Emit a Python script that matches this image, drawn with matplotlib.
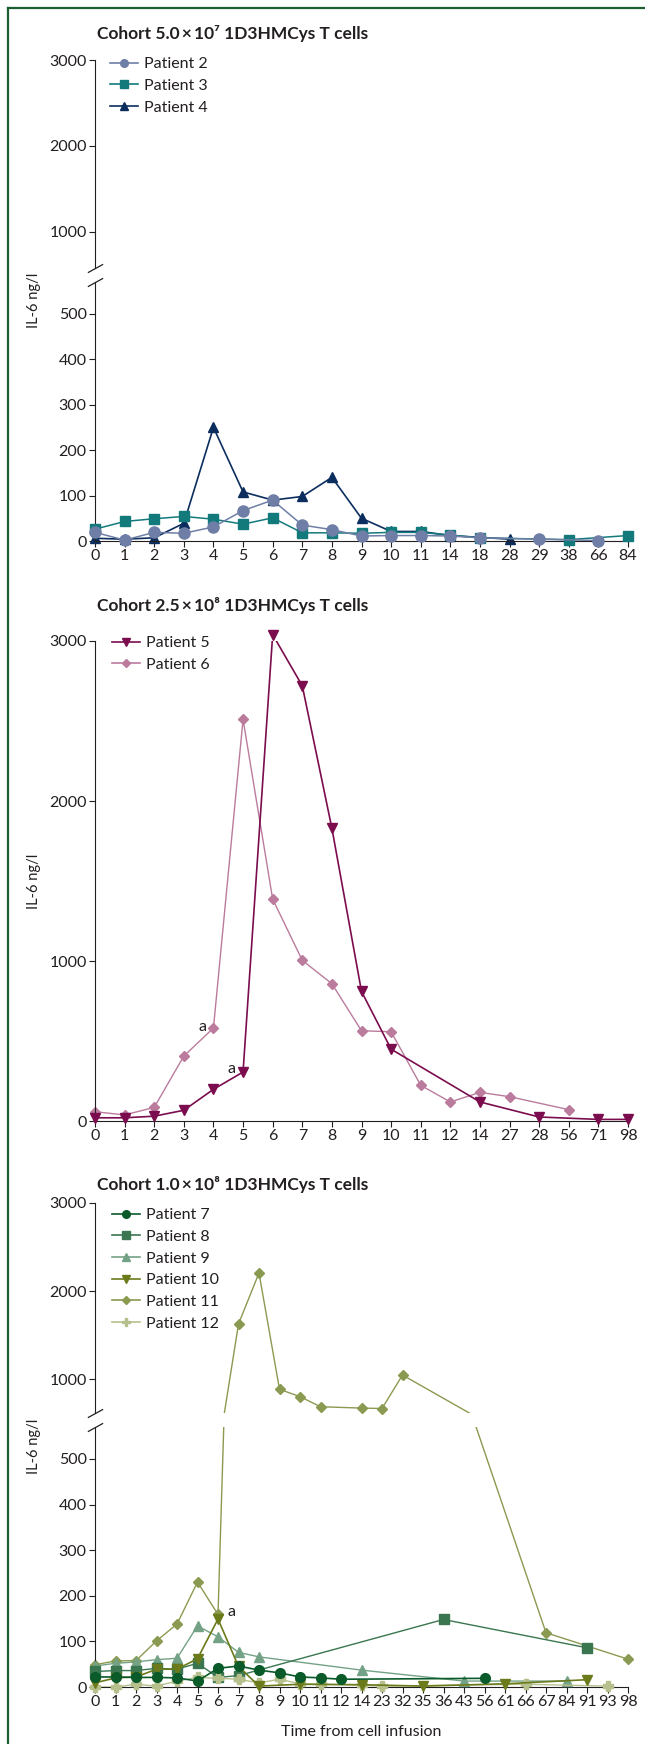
import matplotlib.pyplot as plt
from matplotlib.lines import Line2D
import numpy as np

plt.rcParams['font.family'] = ['Lato', 'DejaVu Sans']
plt.rcParams['font.size'] = 11
plt.rcParams['text.color'] = '#231f20'
plt.rcParams['axes.edgecolor'] = '#231f20'
plt.rcParams['xtick.color'] = '#231f20'
plt.rcParams['ytick.color'] = '#231f20'

# ---- data (IL-6 ng/l, None = no sample) ----
days_a = ['0', '1', '2', '3', '4', '5', '6', '7', '8', '9', '10', '11', '14', '18', '28', '29', '38', '66', '84']
p2 = [19, 2, 19, 17, 31, 67, 90, 35, 25, 11, 12, 12, 11, 7, None, 4, None, 1, None]
p3 = [26, 43, 49, 54, 48, 37, 51, 18, 18, 17, 19, 19, 13, 7, None, None, 3, None, 12]
p4 = [6, 4, 7, 39, 250, 108, 90, 98, 140, 50, 21, 21, 12, None, 4, None, None, None, None]

days_b = ['0', '1', '2', '3', '4', '5', '6', '7', '8', '9', '10', '11', '12', '14', '27', '28', '56', '71', '98']
p5 = [20, 20, 30, 67, 198, 306, 3040, 2720, 1830, 810, 449, None, None, 119, None, 25, None, 10, 10]
p6 = [58, 38, 85, 406, 581, 2510, 1387, 1004, 858, 564, 558, 223, 119, 179, 152, None, 71, None, None]

days_c = ['0', '1', '2', '3', '4', '5', '6', '7', '8', '9', '10', '11', '12', '14', '23', '32', '35',
          '36', '43', '56', '61', '66', '67', '84', '91', '93', '98']
p7 = [22, 22, 21, 21, 20, 13, 41, 46, 37, 31, 22, 20, 17, None, None, None, None,
      None, None, 19, None, None, None, None, None, None, None]
p8 = [34, 36, 36, 41, 39, 52, 21, 25, None, None, None, None, None, None, None, None, None,
      148, None, None, None, None, None, None, 86, None, None]
p9 = [46, 52, 55, 60, 63, 134, 110, 76, 66, None, None, None, None, 37, None, None, None,
      None, 13, None, None, None, None, 13, None, None, None]
p10 = [9, 20, 22, 39, 39, 62, 149, 45, 2, None, 6, None, None, 5, None, None, 2,
       None, None, None, 7, None, None, None, 16, None, None]
p11 = [49, 57, 58, 101, 138, 230, 159, 1625, 2205, 883, 800, 685, None, 670, 665, 1045, None,
       None, None, None, None, None, 119, None, None, None, 61]
p12 = [0, 0, 6, 2, 13, 21, 19, 17, 9, 17, 7, 6, None, 4, 2, None, None,
       None, None, None, None, 6, None, None, None, 2, None]

W, H = 645, 1744
fig = plt.figure(figsize=(W / 100, H / 100), dpi=100)


def fx(px):
    return px / W


def fy(py):
    return 1 - py / H


X0, X1 = 95, 628


def make_ax(top, bottom):
    return fig.add_axes([fx(X0), fy(bottom), (X1 - X0) / W, (bottom - top) / H])


def draw(ax, values, color, marker, ms, lw=1.0, lo=-1e9, hi=1e9, z=2):
    idx = [i for i, v in enumerate(values) if v is not None]
    xs = np.array(idx)
    ys = np.array([values[i] for i in idx], float)
    ax.plot(xs, ys, '-', color=color, lw=lw, zorder=z)
    keep = (ys >= lo) & (ys <= hi)
    ax.plot(xs[keep], ys[keep], ls='none', marker=marker, ms=ms, color=color,
            mec=color, clip_on=False, zorder=z + 0.5)


def style_lower(ax, days, yt):
    for s in ['top', 'right']:
        ax.spines[s].set_visible(False)
    ax.set_xlim(0, len(days) - 1)
    ax.set_xticks(range(len(days)))
    ax.set_xticklabels(days)
    ax.set_yticks(yt)
    ax.tick_params(direction='out', length=4, width=0.8, pad=2, labelsize=11.5)


def style_upper(ax, n, lo):
    for s in ['top', 'right', 'bottom']:
        ax.spines[s].set_visible(False)
    ax.set_xlim(0, n - 1)
    ax.set_xticks([])
    ax.set_ylim(lo, 3000)
    ax.set_yticks([1000, 2000, 3000])
    ax.tick_params(direction='out', length=4, width=0.8, pad=2, labelsize=11.5)


def breakmarks(up, low):
    kw = dict(marker=[(-1, -0.55), (1, 0.55)], markersize=11, linestyle='none',
              color='#231f20', mec='#231f20', mew=0.9, clip_on=False)
    up.plot([0], [0], transform=up.transAxes, **kw)
    low.plot([0], [1], transform=low.transAxes, **kw)


def legend(ax, entries, x, y):
    handles = [Line2D([], [], color=c, marker=m, ms=ms, lw=1.2, mec=c) for c, m, ms, _ in entries]
    labels = [l for _, _, _, l in entries]
    ax.legend(handles, labels, loc='upper left', bbox_to_anchor=(fx(x), fy(y)),
              bbox_transform=fig.transFigure, frameon=False, borderpad=0, borderaxespad=0,
              handlelength=1.75, handletextpad=0.35, labelspacing=0.47, fontsize=11.5)


c2, c3, c4 = '#6f7ea6', '#137a7c', '#0b2e5e'
c5, c6 = '#7b0c4e', '#bb7b9d'
c7, c8, c9, c10, c11, c12 = '#0a5a2a', '#3a7650', '#74a286', '#6b7b1c', '#8a9a50', '#b6c08c'

title_kw = dict(fontweight='bold', fontsize=12.5, va='center', ha='left')
ylab_kw = dict(rotation=90, va='center', ha='center', fontsize=10.5)

# ---- panel 1 (broken axis) ----
lo1 = 580
a1u = make_ax(60, 268)
a1l = make_ax(282, 541)
for ax, lo, hi in [(a1u, lo1, 1e9), (a1l, -1, 570)]:
    draw(ax, p4, c4, '^', 6.5, lw=1.2, lo=lo, hi=hi, z=2)
    draw(ax, p3, c3, 's', 7, lw=1.1, lo=lo, hi=hi, z=3)
    draw(ax, p2, c2, 'o', 8, lw=1.1, lo=lo, hi=hi, z=4)
style_upper(a1u, len(days_a), lo1)
a1l.set_ylim(0, 570)
style_lower(a1l, days_a, [0, 100, 200, 300, 400, 500])
breakmarks(a1u, a1l)
legend(a1u, [(c2, 'o', 5.5, 'Patient 2'), (c3, 's', 5.5, 'Patient 3'), (c4, '^', 5.5, 'Patient 4')], 110, 57)
fig.text(fx(97), fy(33), 'Cohort 5.0\u2009\u00d7\u200910\u2077 1D3HMCys T cells', **title_kw)
fig.text(fx(34), fy(300), 'IL-6 ng/l', **ylab_kw)

# ---- panel 2 ----
a2 = make_ax(641, 1121)
draw(a2, p6, c6, 'D', 5, lw=1.0, z=2)
draw(a2, p5, c5, 'v', 7, lw=1.2, z=3)
a2.set_ylim(0, 3000)
style_lower(a2, days_b, [0, 1000, 2000, 3000])
a2.annotate('a', xy=(4, p6[4]), xytext=(-8, 1), textcoords='offset points', ha='center', va='center',
            fontsize=11.5)
a2.annotate('a', xy=(5, p5[5]), xytext=(-8, 2), textcoords='offset points', ha='center', va='center',
            fontsize=11.5)
legend(a2, [(c5, 'v', 6, 'Patient 5'), (c6, 'D', 4.5, 'Patient 6')], 112, 636)
fig.text(fx(97), fy(605), 'Cohort 2.5\u2009\u00d7\u200910\u2078 1D3HMCys T cells', **title_kw)
fig.text(fx(34), fy(881), 'IL-6 ng/l', **ylab_kw)

# ---- panel 3 (broken axis) ----
lo3 = 614
a3u = make_ax(1203, 1413)
a3l = make_ax(1427, 1687)
for ax, lo, hi in [(a3u, lo3, 1e9), (a3l, -1, 570)]:
    draw(ax, p11, c11, 'D', 4.8, lw=1.0, lo=lo, hi=hi, z=2)
    draw(ax, p9, c9, '^', 6.5, lw=1.0, lo=lo, hi=hi, z=3)
    draw(ax, p8, c8, 's', 7, lw=1.0, lo=lo, hi=hi, z=4)
    draw(ax, p12, c12, 'P', 6.5, lw=1.0, lo=lo, hi=hi, z=5)
    draw(ax, p10, c10, 'v', 6.5, lw=1.2, lo=lo, hi=hi, z=6)
    draw(ax, p7, c7, 'o', 7, lw=1.2, lo=lo, hi=hi, z=7)
style_upper(a3u, len(days_c), lo3)
a3l.set_ylim(0, 570)
style_lower(a3l, days_c, [0, 100, 200, 300, 400, 500])
breakmarks(a3u, a3l)
a3l.annotate('a', xy=(6, p11[6]), xytext=(10, 2), textcoords='offset points', ha='center', va='center',
             fontsize=11.5)
legend(a3u, [(c7, 'o', 5.5, 'Patient 7'), (c8, 's', 5.5, 'Patient 8'), (c9, '^', 5.5, 'Patient 9'),
             (c10, 'v', 5.5, 'Patient 10'), (c11, 'D', 4.5, 'Patient 11'), (c12, 'P', 5.5, 'Patient 12')],
       112, 1208)
fig.text(fx(97), fy(1184), 'Cohort 1.0\u2009\u00d7\u200910\u2078 1D3HMCys T cells', **title_kw)
fig.text(fx(34), fy(1446), 'IL-6 ng/l', **ylab_kw)
fig.text(fx(361), fy(1732), 'Time from cell infusion', ha='center', va='center', fontsize=11.5)

# ---- green frame (top and left edges) ----
frame = '#1d5e30'
fig.add_artist(Line2D([fx(8), 1.0], [fy(8), fy(8)], color=frame, lw=1.6))
fig.add_artist(Line2D([fx(8), fx(8)], [fy(8), 0.0], color=frame, lw=1.6))

fig.savefig('out.png', dpi=100)
plt.close()
